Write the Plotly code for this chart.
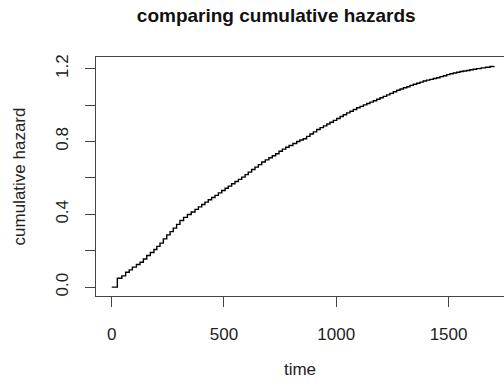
import plotly.graph_objects as go

time = [0, 25, 45, 62, 78, 92, 110, 126, 141, 156, 172, 188, 201, 215, 230, 245, 260, 274, 289, 304,
        320, 337, 354, 371, 386, 401, 415, 430, 445, 460, 475, 490, 505, 519, 534, 549, 564, 579, 594, 608,
        623, 638, 653, 668, 684, 700, 715, 730, 745, 760, 775, 790, 807, 824, 838, 853, 868, 883, 898, 913,
        928, 943, 958, 972, 987, 1002, 1017, 1031, 1046, 1061, 1076, 1091, 1106, 1121, 1136, 1150, 1165, 1180,
        1195, 1209, 1224, 1239, 1254, 1269, 1284, 1299, 1314, 1328, 1343, 1358, 1373, 1387, 1402, 1417, 1432,
        1447, 1462, 1477, 1492, 1506, 1521, 1536, 1551, 1565, 1580, 1595, 1610, 1625, 1645, 1665, 1685, 1702]
hazard = [0.0, 0.049, 0.062, 0.082, 0.095, 0.110, 0.124, 0.137, 0.155, 0.174, 0.190, 0.207, 0.224, 0.242,
          0.265, 0.287, 0.305, 0.324, 0.345, 0.366, 0.383, 0.399, 0.413, 0.427, 0.441, 0.454, 0.467, 0.480,
          0.492, 0.504, 0.518, 0.531, 0.543, 0.555, 0.568, 0.580, 0.592, 0.604, 0.618, 0.632, 0.646, 0.659,
          0.673, 0.687, 0.699, 0.711, 0.722, 0.733, 0.746, 0.758, 0.768, 0.778, 0.789, 0.800, 0.808, 0.815,
          0.828, 0.841, 0.853, 0.866, 0.876, 0.886, 0.896, 0.906, 0.916, 0.926, 0.937, 0.947, 0.957, 0.966,
          0.976, 0.985, 0.993, 1.001, 1.009, 1.016, 1.024, 1.032, 1.040, 1.048, 1.056, 1.064, 1.073, 1.081,
          1.088, 1.095, 1.101, 1.108, 1.114, 1.120, 1.126, 1.132, 1.137, 1.141, 1.146, 1.150, 1.156, 1.161,
          1.167, 1.172, 1.176, 1.180, 1.184, 1.187, 1.190, 1.194, 1.197, 1.200, 1.204, 1.208, 1.212, 1.214]

x_ticks = [0, 500, 1000, 1500]
y_ticks = [0.0, 0.2, 0.4, 0.6, 0.8, 1.0, 1.2]
y_labels = ["0.0", "", "0.4", "", "0.8", "", "1.2"]

FONT = "Liberation Sans, Arial, sans-serif"
AX = "#444444"

fig = go.Figure()
fig.add_trace(go.Scatter(x=time, y=hazard, mode="lines", line=dict(color="black", width=1.4, shape="hv"),
                         showlegend=False, hoverinfo="skip"))

fig.update_layout(
    width=504, height=387,
    margin=dict(l=96, r=0, t=57, b=91),
    paper_bgcolor="white", plot_bgcolor="white",
    font=dict(family=FONT, size=17, color="#222222"),
    title=dict(text="<b>comparing cumulative hazards</b>", x=0.548, xref="container", xanchor="center",
               y=1 - 15 / 387, yref="container", yanchor="middle",
               font=dict(family=FONT, size=19, color="#111111")),
    xaxis=dict(range=[-70, 1747], tickvals=x_ticks, ticktext=[str(v) for v in x_ticks],
               ticks="outside", ticklen=10, tickcolor=AX, tickwidth=1, ticklabelstandoff=13,
               showline=True, linecolor=AX, linewidth=1, mirror=True, showgrid=False, zeroline=False,
               title=dict(text="time", standoff=19, font=dict(size=17))),
    yaxis=dict(range=[-0.0486, 1.264], tickvals=y_ticks, ticktext=y_labels, tickangle=-90,
               ticks="outside", ticklen=10, tickcolor=AX, tickwidth=1, ticklabelstandoff=10,
               showline=True, linecolor=AX, linewidth=1, showgrid=False, zeroline=False,
               title=dict(text="cumulative hazard", standoff=23, font=dict(size=17))),
)

fig.write_html("out.html")
